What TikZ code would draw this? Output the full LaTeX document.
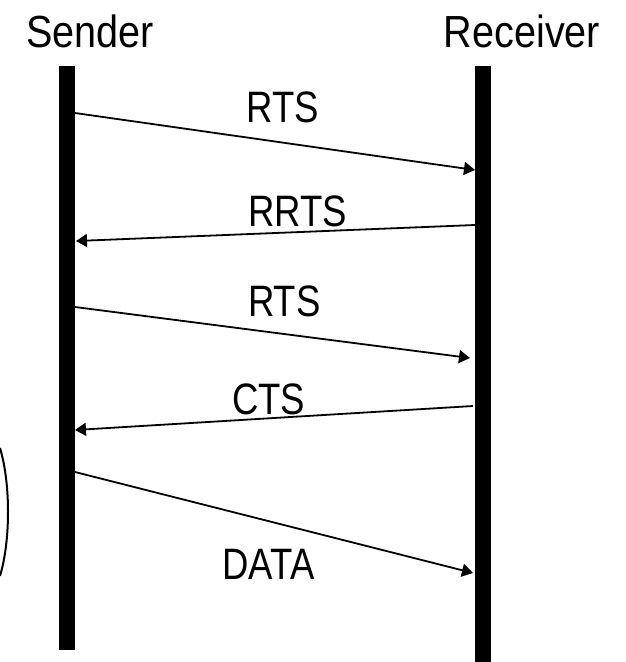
\documentclass[tikz,border=0pt]{standalone}
\usepackage{fontspec}
\setmainfont[FakeStretch=0.83]{Liberation Sans}
\newfontfamily\headfont[FakeStretch=0.88]{Liberation Sans}
\usetikzlibrary{arrows.meta}

\begin{document}
\begin{tikzpicture}[
        x=1pt, y=-1pt,
        every node/.style={
                font=\fontsize{44}{50}\selectfont,
                inner sep=0pt
            },
        >={Triangle[length=11pt,width=13pt]},
        actor/.style={anchor=base, font=\headfont\fontsize{45}{50}\selectfont},
        lifeline/.style={line width=16pt},
        msg/.style={->, line width=1.8pt}
    ]
    \useasboundingbox (0,0) rectangle (626,662);

    % Kopfzeilen
    \node[actor] (sender) at (90,47) {Sender};
    \node[actor] (receiver) at (522,47) {Receiver};

    % Lebenslinien
    \draw[lifeline] (67,66) -- (67,650);
    \draw[lifeline] (483,66) -- (483,662);

    % Enden der Nachrichten
    \coordinate (rtsS) at (75,113);
    \coordinate (rtsR) at (475,170);
    \coordinate (rrtsR) at (475,225);
    \coordinate (rrtsS) at (76,241);
    \coordinate (rtstwoS) at (75,307);
    \coordinate (rtstwoR) at (470,358);
    \coordinate (ctsR) at (473,406);
    \coordinate (ctsS) at (75,430);
    \coordinate (dataS) at (75,472);
    \coordinate (dataR) at (473,573);

    % Nachrichten
    \draw[msg] (rtsS) -- node[pos=0.52, above=19pt] {RTS} (rtsR);
    \draw[msg] (rrtsR) -- node[pos=0.445, above=4pt] {RRTS} (rrtsS);
    \draw[msg] (rtstwoS) -- node[pos=0.53, above=16pt] {RTS} (rtstwoR);
    \draw[msg] (ctsR) -- node[pos=0.513, above=2pt] {CTS} (ctsS);
    \draw[msg] (dataS) -- node[pos=0.486, below=27pt] {DATA} (dataR);

    % Bogen am linken Rand
    \draw[line width=2pt] (0,448) arc[start angle=45.3, end angle=-45.3, x radius=27pt, y radius=90pt];

\end{tikzpicture}
\end{document}
